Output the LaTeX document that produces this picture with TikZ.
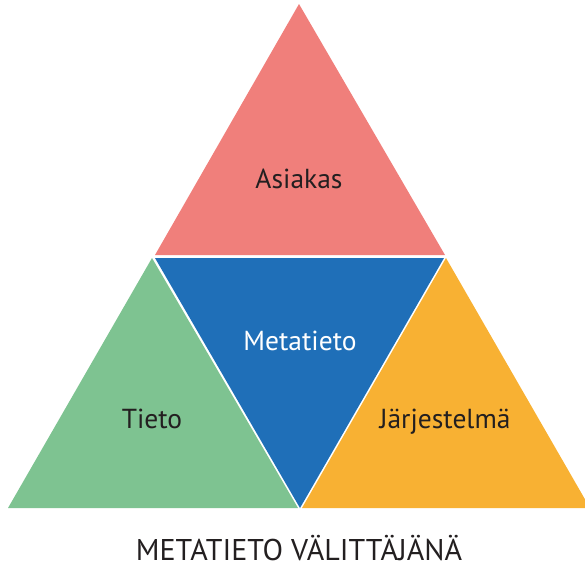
\documentclass[tikz,border=0pt]{standalone}
\usepackage{fontspec}
\setmainfont{PT Sans}
\definecolor{asiakasred}{HTML}{F07F7B}
\definecolor{metablue}{HTML}{1F6FB8}
\definecolor{tietogreen}{HTML}{7EC391}
\definecolor{jarjorange}{HTML}{F8B133}
\definecolor{tekstidark}{HTML}{231F20}
\begin{document}
\begin{tikzpicture}[x=1pt,y=-1pt,
	lbl/.style={text=tekstidark,font=\fontsize{27.5}{28}\selectfont,inner sep=0pt,anchor=base}]
	\useasboundingbox (0,0) rectangle (585,568);
	\clip (0,0) rectangle (585,568);
	% kolmiot
	\fill[asiakasred] (299,4)--(445,255)--(155,255)--cycle;
	\fill[metablue] (155,258)--(444,258)--(300,508)--cycle;
	\fill[tietogreen] (152,258)--(298,508)--(8,508)--cycle;
	\fill[jarjorange] (446,258)--(590,508)--(302,508)--cycle;
	% tekstit
	\node[lbl] (asiakas) at (299,188) {Asiakas};
	\node[lbl,text=white] (meta) at (300,350) {Metatieto};
	\node[lbl] (tieto) at (152,428) {Tieto};
	\node[lbl] (jarj) at (445,428) {Järjestelmä};
	\node[lbl,font=\fontsize{30}{30}\selectfont] (otsikko) at (299,560) {METATIETO VÄLITTÄJÄNÄ};
\end{tikzpicture}
\end{document}
